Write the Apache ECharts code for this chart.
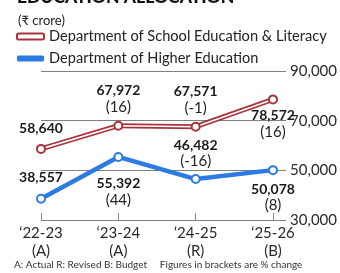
<!DOCTYPE html>
<html><head><meta charset="utf-8">
<script src="https://cdn.jsdelivr.net/npm/echarts@6/dist/echarts.min.js"></script>
<style>html,body{margin:0;padding:0;background:#fff}#c{width:340px;height:273px}</style>
</head><body><div id="c"></div>
<script>
var categories = ['\u201822-23', '\u201823-24', '\u201824-25', '\u201825-26'];
var categoryNotes = ['(A)', '(A)', '(R)', '(B)'];
var schoolValues = [58640, 67972, 67571, 78572];
var schoolPct = [null, 16, -1, 16];
var higherValues = [38557, 55392, 46482, 50078];
var higherPct = [null, 44, -16, 8];
var yTicks = [30000, 50000, 70000, 90000];
var seriesNames = ['Department of School Education & Literacy', 'Department of Higher Education'];

var RED = '#a8333a', BLUE = '#2c7be2', FONT = 'Lato';
var schoolLabelPos = ['top', 'top', 'top', 'bottom'];
var schoolLabelDist = [7, 5, 5, 3];
var higherLabelPos = ['top', 'bottom', 'top', 'bottom'];
var higherLabelDist = [8, 14, 4, 6];

function fmt(n) { return String(n).replace(/\B(?=(\d{3})+(?!\d))/g, ','); }
function mkData(vals, pcts, pos, dist) {
  return vals.map(function (v, i) {
    var txt = '{v|' + fmt(v) + '}' + (pcts[i] === null ? '' : '\n{p|(' + pcts[i] + ')}');
    return { value: v, label: { show: true, position: pos[i], distance: dist[i], formatter: txt } };
  });
}
var rich = {
  v: { fontFamily: FONT, fontSize: 14, fontWeight: 'bold', color: '#1a1a1a', lineHeight: 16 },
  p: { fontFamily: FONT, fontSize: 15, color: '#222', lineHeight: 17 }
};

var chart = echarts.init(document.getElementById('c'), null, { renderer: 'canvas' });
chart.setOption({
  animation: false,
  title: [
    { text: 'EDUCATION ALLOCATION', left: 12, top: -17, textStyle: { fontFamily: FONT, fontSize: 17.5, fontWeight: 900, color: '#111' } },
    { text: '(\u20b9 crore)', left: 13, top: 9, textStyle: { fontFamily: FONT, fontSize: 13, fontWeight: 'normal', color: '#222' } }
  ],
  legend: {
    orient: 'vertical', left: 11, top: 24, itemGap: 7, itemWidth: 27, itemHeight: 6,
    textStyle: { fontFamily: FONT, fontSize: 14.6, color: '#222' },
    data: [
      { name: seriesNames[0], icon: 'roundRect', itemStyle: { color: '#fff', borderColor: RED, borderWidth: 2 } },
      { name: seriesNames[1], icon: 'roundRect', itemStyle: { color: BLUE, borderWidth: 0 } }
    ]
  },
  graphic: [
    { type: 'text', left: 14, top: 260, style: { text: 'A: Actual R: Revised B: Budget     Figures in brackets are % change', fontFamily: FONT, fontSize: 10, fill: '#333' } }
  ],
  grid: [
    { left: 41, right: 52, top: 71, bottom: 53 },
    { left: 41, right: 67, top: 71, bottom: 53 }
  ],
  xAxis: [
    { gridIndex: 0, type: 'value', show: false },
    { gridIndex: 1, type: 'category', data: categories, boundaryGap: false,
      axisLine: { show: false },
      axisTick: { show: true, inside: true, length: 7, lineStyle: { color: '#888' } },
      axisLabel: { margin: 4, fontFamily: FONT, fontSize: 15, color: '#2a2a2a', lineHeight: 18,
        formatter: function (v, i) { return v + '\n' + categoryNotes[i]; } } }
  ],
  yAxis: [
    { gridIndex: 0, type: 'value', position: 'right', min: yTicks[0], max: yTicks[yTicks.length - 1], interval: 20000,
      axisLine: { show: false }, axisTick: { show: false },
      splitLine: { lineStyle: { color: '#808080', width: 1 } },
      axisLabel: { margin: 4, fontFamily: FONT, fontSize: 15, color: '#2a2a2a', formatter: function (v) { return fmt(v); } } },
    { gridIndex: 1, type: 'value', min: yTicks[0], max: yTicks[yTicks.length - 1], show: false }
  ],
  series: [
    { name: seriesNames[0], type: 'line', xAxisIndex: 1, yAxisIndex: 1, data: schoolValues, showSymbol: false, symbol: 'none',
      lineStyle: { color: RED, width: 5 }, itemStyle: { color: RED }, z: 3 },
    { name: 'schoolInner', type: 'line', xAxisIndex: 1, yAxisIndex: 1,
      data: mkData(schoolValues, schoolPct, schoolLabelPos, schoolLabelDist),
      symbol: 'circle', symbolSize: 8, lineStyle: { color: '#fff', width: 1.6 },
      itemStyle: { color: '#fff', borderColor: RED, borderWidth: 2 }, label: { rich: rich, align: 'center' }, z: 4 },
    { name: seriesNames[1], type: 'line', xAxisIndex: 1, yAxisIndex: 1,
      data: mkData(higherValues, higherPct, higherLabelPos, higherLabelDist),
      symbol: 'circle', symbolSize: 8, lineStyle: { color: BLUE, width: 4.5 },
      itemStyle: { color: '#fff', borderColor: BLUE, borderWidth: 2 }, label: { rich: rich, align: 'center' }, z: 5 }
  ]
});
</script></body></html>
